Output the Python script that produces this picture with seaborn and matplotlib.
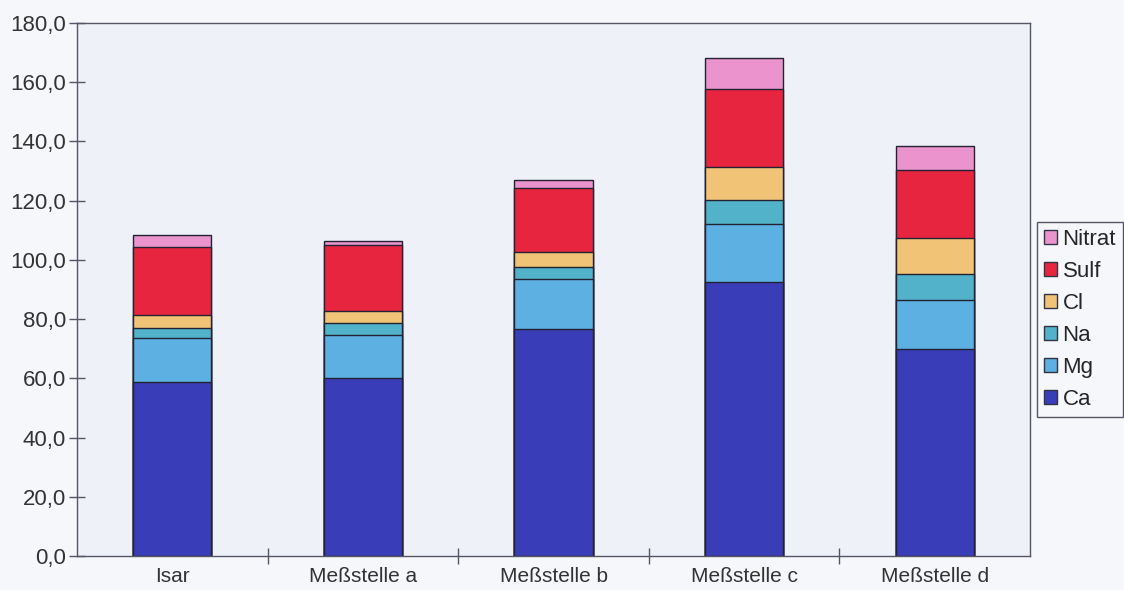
import numpy as np
import pandas as pd
import matplotlib.pyplot as plt
import seaborn as sns
from matplotlib.patches import Patch
from matplotlib.ticker import FuncFormatter, MultipleLocator, FixedLocator

sites = ["Isar", "Meßstelle a", "Meßstelle b", "Meßstelle c", "Meßstelle d"]
ca = [58.9, 60.1, 76.6, 92.5, 69.8]
mg = [14.7, 14.6, 17.0, 19.7, 16.7]
na = [3.5, 4.0, 3.9, 8.1, 8.7]
cl = [4.3, 4.2, 5.3, 11.2, 12.3]
sulf = [23.1, 22.1, 21.4, 26.3, 22.7]
nitrat = [3.9, 1.5, 2.8, 10.3, 8.3]

names = ["Ca", "Mg", "Na", "Cl", "Sulf", "Nitrat"]
colors = ["#3a3db8", "#5cb0e2", "#52b2c9", "#f0c377", "#e8253f", "#eb93cc"]

df = pd.DataFrame({"Ca": ca, "Mg": mg, "Na": na, "Cl": cl, "Sulf": sulf, "Nitrat": nitrat}, index=sites)
cum = df[names].cumsum(axis=1)

sns.set_style("white")
plt.rcParams['font.family'] = ['Liberation Sans', 'DejaVu Sans']

fig = plt.figure(figsize=(11.24, 5.9), dpi=100)
fig.patch.set_facecolor("#f5f7fb")
ax = fig.add_axes([77/1124, 34/590, 953/1124, 533/590])
ax.set_facecolor("#eef2f8")

# stack by overdrawing cumulative sums, tallest first
for name, col in zip(names[::-1], colors[::-1]):
    sns.barplot(x=sites, y=cum[name].values, color=col, width=0.41,
                edgecolor="#222233", linewidth=1.0, saturation=1, ax=ax)

ax.set_xlim(-0.5, 4.5)
ax.set_ylim(0, 180)
ax.yaxis.set_major_locator(MultipleLocator(20))
ax.yaxis.set_major_formatter(FuncFormatter(lambda v, p: f"{v:.1f}".replace(".", ",")))
ax.xaxis.set_minor_locator(FixedLocator([0.5, 1.5, 2.5, 3.5]))
ax.tick_params(axis="x", which="major", bottom=False, length=0, labelsize=15, labelcolor="#333333", pad=8)
ax.tick_params(axis="x", which="minor", bottom=True, length=12, direction="inout",
               color="#555566", width=1)
ax.tick_params(axis="y", which="major", left=True, length=12, direction="inout", labelsize=16,
               color="#555566", labelcolor="#333333", width=1, pad=2)
for s in ax.spines.values():
    s.set_color("#555566")
    s.set_linewidth(1.0)
ax.set_xlabel("")
ax.set_ylabel("")

handles = [Patch(facecolor=c, edgecolor="#333344", label=n) for n, c in zip(names[::-1], colors[::-1])]
leg = fig.legend(handles=handles, loc="upper left", bbox_to_anchor=(1037/1124, 1 - 222/590),
                 fontsize=16, frameon=True, fancybox=False, framealpha=1,
                 handlelength=0.6, handleheight=0.6, handletextpad=0.25,
                 labelspacing=0.5, borderpad=0.3, borderaxespad=0)
leg.get_frame().set_edgecolor("#555566")
leg.get_frame().set_facecolor("#f5f7fb")
leg.get_frame().set_linewidth(1.0)

fig.savefig("out.png", dpi=100, facecolor=fig.get_facecolor())
